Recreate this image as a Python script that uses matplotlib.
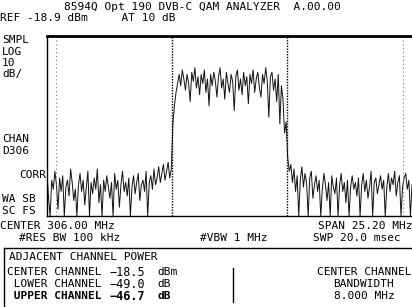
import numpy as np
import matplotlib
matplotlib.use("Agg")
import matplotlib.pyplot as plt
from matplotlib.lines import Line2D

# analyzer settings
center_mhz = 306.0
span_mhz = 25.2
ref_dbm = -18.9
db_per_div = 10
n_div = 8

channel_edges = [302.0, 310.0]     # main channel, 8 MHz wide
adjacent_edges = [294.0, 318.0]    # outer edges of the adjacent channels

# trace (dBm), lower adjacent / main / upper adjacent
trace_lower = [-80, -91, -99, -83, -87, -79, -85, -96, -82, -88,
               -81, -99, -86, -83, -90, -78, -84, -92, -87, -99,
               -85, -80, -88, -83, -94, -86, -79, -99, -84, -89,
               -82, -87, -78, -93, -85, -99, -83, -88, -81, -86,
               -91, -84, -99, -80, -87, -83, -95, -85, -79, -88,
               -84, -90, -82, -99, -86, -81, -89, -84, -80, -92,
               -85, -83, -88, -79, -99, -84, -81, -87, -78, -85,
               -82, -77, -84, -80, -76, -83, -79, -75, -82, -78]
trace_main = [-58, -50, -44, -40, -36, -41, -34, -38, -43, -36,
              -40, -48, -35, -39, -33, -42, -37, -45, -36, -40,
              -34, -44, -38, -50, -36, -41, -35, -39, -46, -37,
              -33, -42, -38, -47, -35, -40, -44, -36, -39, -52,
              -37, -34, -43, -38, -45, -35, -41, -37, -49, -36,
              -40, -34, -44, -38, -35, -42, -46, -36, -40, -33,
              -39, -55, -37, -35, -43, -38, -48, -36, -58, -41,
              -47, -62, -57]
trace_upper = [-73, -79, -76, -84, -78, -88, -81, -99, -83, -77,
               -86, -80, -84, -99, -82, -79, -91, -85, -81, -88,
               -83, -99, -87, -80, -85, -92, -84, -99, -81, -86,
               -89, -82, -99, -85, -80, -88, -84, -93, -83, -99,
               -86, -81, -87, -84, -90, -82, -99, -85, -80, -88,
               -83, -91, -86, -79, -99, -84, -82, -89, -85, -81,
               -87, -83, -99, -86, -80, -88, -82, -85, -79, -90,
               -84, -81, -99, -86, -82, -80, -87, -83, -99, -85]

# adjacent channel power readout
acp_labels = ["CENTER CHANNEL", " LOWER CHANNEL", " UPPER CHANNEL"]
acp_values = ["\u221218.5", "\u221249.0", "\u221246.7"]
acp_units = ["dBm", "dB", "dB"]

trace = trace_lower + trace_main + trace_upper
f_start = center_mhz - span_mhz / 2
f_stop = center_mhz + span_mhz / 2
freq = np.linspace(f_start, f_stop, len(trace))

W, H = 412, 307
fig = plt.figure(figsize=(W / 100, H / 100), dpi=100)
mono = "DejaVu Sans Mono"


def px(x, y):
    return x / W, 1 - y / H


def label(x, y, s, size=8, ha="left", **kw):
    fig.text(*px(x, y), s, fontsize=size, family=mono, ha=ha, va="center", **kw)


ax = fig.add_axes([47 / W, (H - 216) / H, 365 / W, 180 / H])
ax.plot(freq, trace, color="#111111", lw=0.7)
for f in channel_edges:
    ax.axvline(f, color="black", lw=1.0, ls=(0, (1, 1)))
for f in adjacent_edges:
    ax.axvline(f, color="#777777", lw=0.8, ls=(0, (1, 2.5)))
ax.set_xlim(f_start, f_stop)
ax.set_ylim(ref_dbm - n_div * db_per_div, ref_dbm)
ax.set_xticks([])
ax.set_yticks([])
ax.spines["right"].set_visible(False)
ax.spines["top"].set_linewidth(2)
ax.spines["left"].set_linewidth(1)
ax.spines["bottom"].set_linewidth(1)

# header
label(64, 7, "8594Q Opt 190 DVB-C QAM ANALYZER  A.00.00")
label(0, 18, "REF -18.9 dBm     AT 10 dB")

# left annotations
for y, s in [(40, "SMPL"), (52, "LOG"), (63, "10"), (74, "dB/"),
             (139, "CHAN"), (151, "D306"), (199, "WA SB"), (211, "SC FS")]:
    label(2, y, s)
label(46, 175, "CORR", ha="right")

# below the graticule
label(0, 226, "CENTER 306.00 MHz")
label(412, 226, "SPAN 25.20 MHz", ha="right")
label(19, 238, "#RES BW 100 kHz")
label(200, 238, "#VBW 1 MHz")
label(313, 238, "SWP 20.0 msec")

# ACP box
fig.add_artist(Line2D([4 / W, 1], [1 - 248 / H] * 2, color="black", lw=1))
fig.add_artist(Line2D([4 / W] * 2, [1 - 248 / H, 0], color="black", lw=1))
fig.add_artist(Line2D([233 / W] * 2, [1 - 268 / H, 1 - 302 / H], color="black", lw=1))

label(9, 257, "ADJACENT CHANNEL POWER")
rows = [272, 284, 296]
for i, y in enumerate(rows):
    w = "bold" if i == 2 else "normal"
    label(7, y, acp_labels[i], weight=w)
    label(110, y, acp_values[i], size=8.5, weight=w)
    label(157, y, acp_units[i], weight=w)

label(364, rows[0], "CENTER CHANNEL", ha="center")
label(364, rows[1], "BANDWIDTH", ha="center")
label(364, rows[2], "8.000 MHz", ha="center")

fig.savefig("out.png", dpi=100)
